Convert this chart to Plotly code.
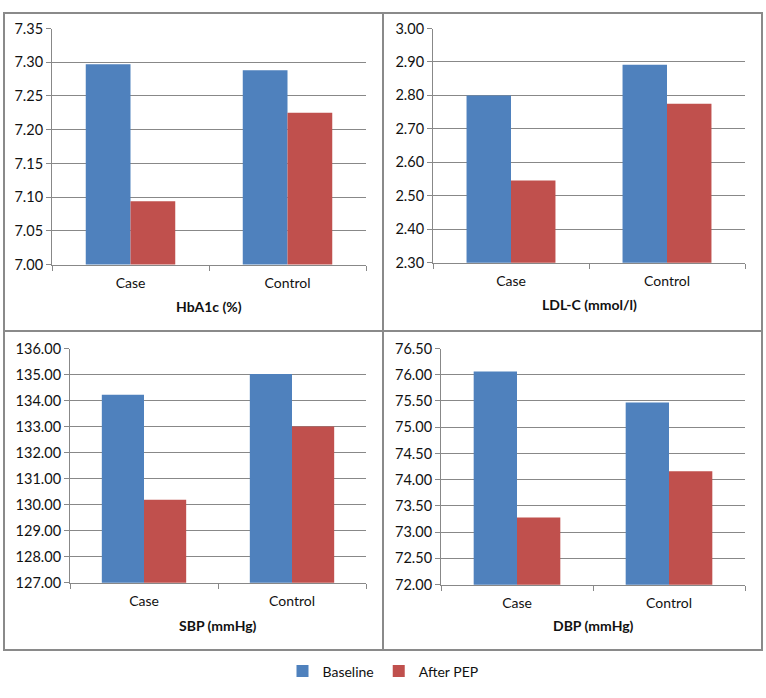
import plotly.graph_objects as go

W, H = 766, 698

categories = ["Case", "Control"]
series_names = ["Baseline", "After PEP"]
colors = ["#4F81BD", "#C0504D"]

hba1c_baseline = [7.297, 7.288]
hba1c_after = [7.094, 7.225]
ldl_baseline = [2.800, 2.892]
ldl_after = [2.546, 2.775]
sbp_baseline = [134.22, 135.02]
sbp_after = [130.19, 133.00]
dbp_baseline = [76.06, 75.47]
dbp_after = [73.28, 74.16]

titles = ["HbA1c (%)", "LDL-C (mmol/l)", "SBP (mmHg)", "DBP (mmHg)"]
y_ranges = [(7.00, 7.35), (2.30, 3.00), (127.0, 136.0), (72.0, 76.5)]
y_dticks = [0.05, 0.1, 1.0, 0.5]

panels = [
    (hba1c_baseline, hba1c_after),
    (ldl_baseline, ldl_after),
    (sbp_baseline, sbp_after),
    (dbp_baseline, dbp_after),
]

# plot areas in pixels: (left, right, top, bottom)
areas = [
    (52, 366, 20, 262),
    (433, 745, 20, 260),
    (70, 366, 348, 588),
    (441, 745, 348, 590),
]
title_y = [305, 303, 632, 632]

FONT = "Lato, Liberation Sans, sans-serif"
GRID = "#888888"
TXT = "#111111"

fig = go.Figure()

def px_x(v):
    return v / W

def px_y(v):
    return 1 - v / H

for i, ((base, after), (l, r, t, b)) in enumerate(zip(panels, areas)):
    n = "" if i == 0 else str(i + 1)
    for j, (vals, name) in enumerate(zip((base, after), series_names)):
        fig.add_trace(go.Bar(
            x=categories, y=vals, name=name,
            marker=dict(color=colors[j], line=dict(width=0)),
            xaxis="x" + n, yaxis="y" + n,
            showlegend=(i == 0),
        ))
    fig.layout["xaxis" + n] = dict(
        domain=[px_x(l), px_x(r)], anchor="y" + n,
        showline=True, linecolor=GRID, linewidth=1,
        ticks="outside", tickson="boundaries", ticklen=5, tickcolor=GRID,
        showgrid=False, tickfont=dict(family=FONT, size=14, color=TXT),
        ticklabelstandoff=6, fixedrange=True,
    )
    fig.layout["yaxis" + n] = dict(
        domain=[px_y(b), px_y(t)], anchor="x" + n,
        range=list(y_ranges[i]), dtick=y_dticks[i], tick0=y_ranges[i][0],
        tickformat=".2f",
        showline=True, linecolor=GRID, linewidth=1,
        ticks="outside", ticklen=5, tickcolor=GRID,
        showgrid=True, gridcolor=GRID, gridwidth=1,
        zeroline=False,
        tickfont=dict(family=FONT, size=14.5, color=TXT),
        fixedrange=True,
    )
    fig.add_annotation(
        x=px_x((l + r) / 2), y=px_y(title_y[i]), xref="paper", yref="paper",
        text="<b>" + titles[i] + "</b>", showarrow=False,
        font=dict(family=FONT, size=14, color=TXT),
        xanchor="center", yanchor="middle",
    )

# panel borders
BORDER = "#8A8A8A"
fig.add_shape(type="rect", xref="paper", yref="paper",
              x0=px_x(4), x1=px_x(762), y0=px_y(657), y1=px_y(4),
              line=dict(color=BORDER, width=2))
fig.add_shape(type="line", xref="paper", yref="paper",
              x0=px_x(383), x1=px_x(383), y0=px_y(657), y1=px_y(4),
              line=dict(color=BORDER, width=2))
fig.add_shape(type="line", xref="paper", yref="paper",
              x0=px_x(4), x1=px_x(762), y0=px_y(330), y1=px_y(330),
              line=dict(color=BORDER, width=2))

fig.update_layout(
    width=W, height=H,
    margin=dict(l=0, r=0, t=0, b=0),
    paper_bgcolor="white", plot_bgcolor="white",
    barmode="group", bargap=0.43, bargroupgap=0,
    legend=dict(orientation="h", x=0.5, xanchor="center",
                y=px_y(679), yanchor="middle",
                font=dict(family=FONT, size=14, color=TXT),
                itemwidth=30, tracegroupgap=0),
    showlegend=True,
)

fig.write_html("out.html",
               config={"displayModeBar": False},
               post_script="document.body.style.margin='0';document.body.style.overflow='hidden';")
